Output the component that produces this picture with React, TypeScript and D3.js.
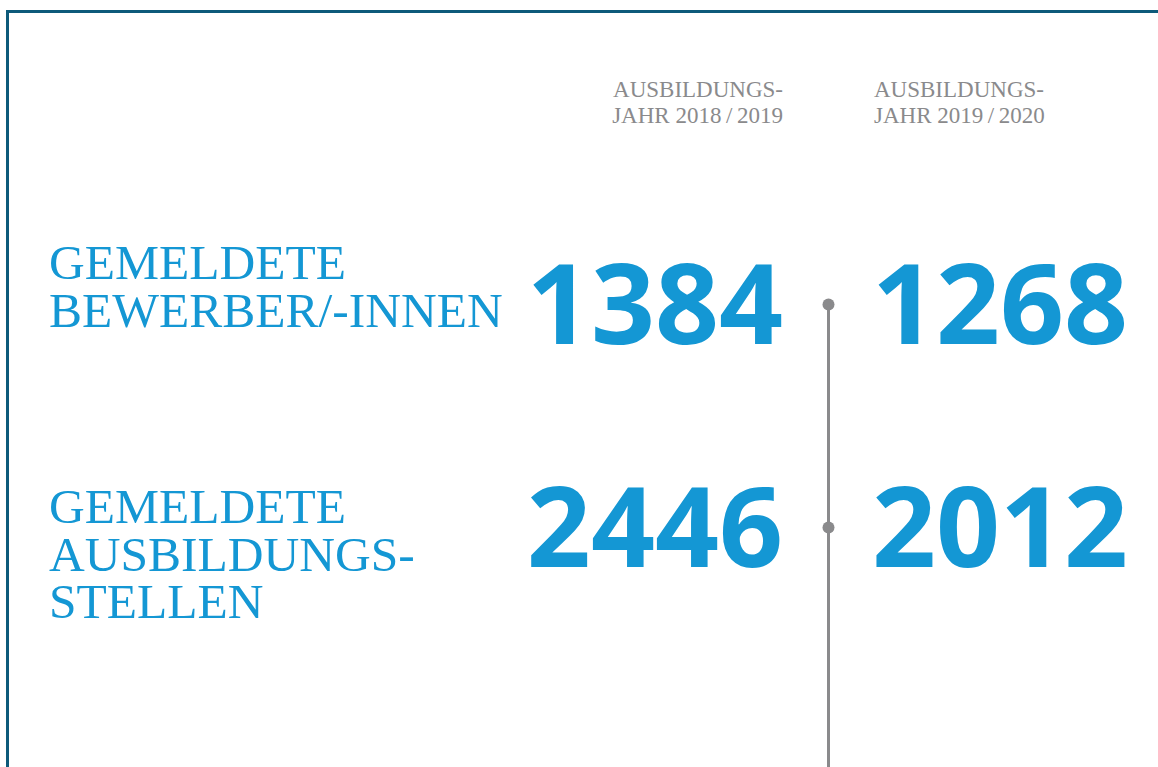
import React from "react";
import * as d3 from "d3";

const years = ["AUSBILDUNGS-|JAHR 2018 / 2019", "AUSBILDUNGS-|JAHR 2019 / 2020"];
const categories = ["GEMELDETE|BEWERBER/-INNEN", "GEMELDETE|AUSBILDUNGS-|STELLEN"];
const values2019 = [1384, 2446];
const values2020 = [1268, 2012];

const W = 1158;
const H = 767;
const BLUE = "#1497d4";
const GRAY = "#8a8a8c";
const BORDER = "#0d5a7a";

export default function App() {
  const y = d3.scalePoint<string>().domain(categories).range([344, 567]);
  const x = d3.scalePoint<string>().domain(years).range([781, 876]);
  const mid = (x(years[0])! + x(years[1])!) / 2;
  const series = [values2019, values2020];

  return (
    <svg width={W} height={H} style={{ position: "absolute", left: 0, top: 0 }}>
      <rect x={0} y={0} width={W} height={H} fill="#fff" />
      <path d={`M7.5,${H} V11.5 H${W}`} fill="none" stroke={BORDER} strokeWidth={3} />
      {years.map((yr, i) => {
        const tx = i === 0 ? x(yr)! + 2 : x(yr)! - 2;
        return (
          <text
            key={yr}
            textAnchor={i === 0 ? "end" : "start"}
            fontFamily="Liberation Serif"
            fontSize={23}
            fill={GRAY}
          >
            {yr.split("|").map((l, j) => (
              <tspan key={j} x={tx} y={97 + j * 26} style={{ whiteSpace: "pre" }}>
                {l.replace(/ \/ /g, "\u2009/\u2009")}
              </tspan>
            ))}
          </text>
        );
      })}
      <line x1={mid} x2={mid} y1={y(categories[0])! - 40} y2={H} stroke={GRAY} strokeWidth={3} />
      {categories.map((c) => (
        <circle key={c} cx={mid} cy={y(c)! - 39.5} r={6} fill={GRAY} />
      ))}
      {categories.map((c) => {
        const lines = c.split("|");
        const base = lines.length === 2 ? y(c)! - 65 : y(c)! - 44;
        return (
          <text key={c} fontFamily="Liberation Serif" fontSize={49.5} fill={BLUE}>
            {lines.map((l, j) => (
              <tspan key={j} x={49} y={base + j * 47.5}>
                {l}
              </tspan>
            ))}
          </text>
        );
      })}
      {series.map((vals, si) =>
        categories.map((c, ci) => (
          <text
            key={`${si}-${ci}`}
            x={si === 0 ? x(years[0])! + 2 : x(years[1])! - 4}
            y={y(c)!}
            textAnchor={si === 0 ? "end" : "start"}
            fontFamily="Open Sans"
            fontWeight={700}
            fontSize={112}
            fill={BLUE}
          >
            {vals[ci]}
          </text>
        ))
      )}
    </svg>
  );
}
